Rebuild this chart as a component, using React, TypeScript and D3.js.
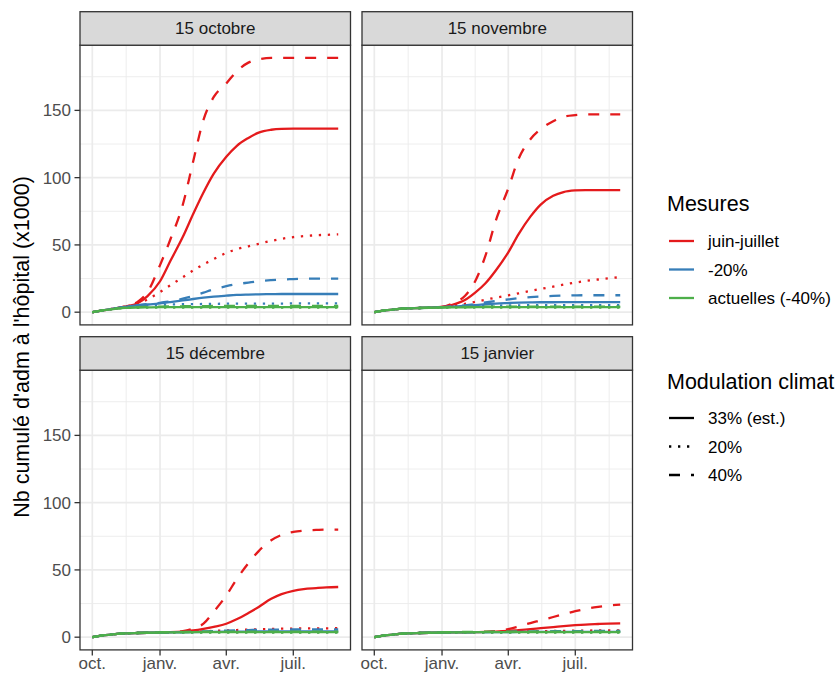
import React from "react";
import * as d3 from "d3";

const facetLabels = ["15 octobre", "15 novembre", "15 décembre", "15 janvier"];
const mesureLabels = ["juin-juillet", "-20%", "actuelles (-40%)"];
const climatLabels = ["33% (est.)", "20%", "40%"];
const mesureColors = ["#E41A1C", "#377EB8", "#4DAF4A"];
const xTickDates = ["2020-10-01", "2021-01-01", "2021-04-01", "2021-07-01"];
const xTickLabels = ["oct.", "janv.", "avr.", "juil."];
const yTicks = [0, 50, 100, 150];

const sampleDates = [
  "2020-10-01", "2020-10-15", "2020-11-01", "2020-11-15", "2020-12-01", "2020-12-15",
  "2021-01-01", "2021-01-15", "2021-02-01", "2021-02-15", "2021-03-01", "2021-03-15",
  "2021-04-01", "2021-04-15", "2021-05-01", "2021-05-15", "2021-06-01", "2021-06-15",
  "2021-07-01", "2021-07-15", "2021-08-01", "2021-08-15", "2021-08-31",
];

// 15 octobre
const oct_juin_33 = [0, 1.3, 2.8, 4.2, 6.5, 12, 23, 38, 56, 73, 89, 103, 115.5, 123.5, 129.5, 133.5, 135.6, 136.3, 136.5, 136.5, 136.5, 136.5, 136.5];
const oct_juin_20 = [0, 1.3, 2.8, 4.2, 6.3, 9.5, 15, 20, 26, 31, 35.5, 39.5, 44, 46.8, 49, 50.8, 53, 54.5, 55.8, 56.5, 57.2, 57.5, 57.8];
const oct_juin_40 = [0, 1.3, 2.8, 4.5, 7.5, 15, 35, 54, 80, 112, 143, 160, 170, 179, 185.5, 188, 189, 189, 189, 189, 189, 189, 189];
const oct_m20_33 = [0, 1.3, 2.8, 4, 5, 5.7, 6.6, 7.5, 8.7, 9.8, 10.8, 11.6, 12.3, 12.8, 13.1, 13.3, 13.4, 13.5, 13.5, 13.5, 13.5, 13.5, 13.5];
const oct_m20_20 = [0, 1.3, 2.7, 3.8, 4.6, 5, 5.4, 5.7, 5.9, 6, 6.1, 6.2, 6.3, 6.3, 6.4, 6.4, 6.4, 6.4, 6.5, 6.5, 6.5, 6.5, 6.5];
const oct_m20_40 = [0, 1.3, 2.8, 4, 5.2, 6, 7, 8, 10, 12, 14.5, 17, 19.3, 20.8, 22, 23, 23.8, 24.3, 24.6, 24.8, 25, 25, 25];
const oct_act_33 = [0, 1.3, 2.5, 3.2, 3.5, 3.6, 3.7, 3.7, 3.7, 3.8, 3.8, 3.8, 3.8, 3.8, 3.8, 3.8, 3.8, 3.8, 3.8, 3.8, 3.8, 3.8, 3.8];
const oct_act_20 = [0, 1.3, 2.5, 3.1, 3.3, 3.4, 3.4, 3.4, 3.5, 3.5, 3.5, 3.5, 3.5, 3.5, 3.5, 3.5, 3.5, 3.5, 3.5, 3.5, 3.5, 3.5, 3.5];
const oct_act_40 = [0, 1.3, 2.6, 3.4, 3.8, 4, 4.2, 4.3, 4.4, 4.5, 4.5, 4.6, 4.6, 4.6, 4.6, 4.6, 4.6, 4.6, 4.6, 4.6, 4.6, 4.6, 4.6];

// 15 novembre
const nov_juin_33 = [0, 1.3, 2.3, 2.8, 3.1, 3.4, 4, 5.5, 9, 14.5, 21.5, 31, 44.5, 58, 71, 80, 86.5, 89.3, 90.5, 90.8, 90.8, 90.8, 90.8];
const nov_juin_20 = [0, 1.3, 2.3, 2.8, 3.1, 3.4, 3.9, 4.8, 6.2, 7.7, 9.3, 10.8, 12.5, 14, 15.8, 17.3, 19, 20.5, 22, 23.2, 24.3, 25.2, 26];
const nov_juin_40 = [0, 1.3, 2.3, 2.8, 3.1, 3.4, 4, 6.5, 12, 23, 42, 68, 92, 114, 128.5, 136, 142, 145.3, 146.5, 147, 147, 147, 147];
const nov_m20_33 = [0, 1.3, 2.3, 2.8, 3.1, 3.4, 3.7, 4.1, 4.7, 5.3, 5.9, 6.4, 6.8, 7.1, 7.3, 7.4, 7.4, 7.5, 7.5, 7.5, 7.5, 7.5, 7.5];
const nov_m20_20 = [0, 1.3, 2.3, 2.8, 3.1, 3.4, 3.6, 3.9, 4.2, 4.5, 4.7, 4.9, 5, 5.1, 5.2, 5.2, 5.3, 5.3, 5.3, 5.3, 5.3, 5.3, 5.3];
const nov_m20_40 = [0, 1.3, 2.3, 2.8, 3.1, 3.4, 3.8, 4.3, 5.1, 6, 7.2, 8.3, 9.5, 10.4, 11.2, 11.7, 12.1, 12.3, 12.5, 12.6, 12.6, 12.6, 12.6];

// actuelles (-40%), facets 15 novembre .. 15 janvier
const late_act_33 = [0, 1.3, 2.3, 2.8, 3.1, 3.3, 3.5, 3.6, 3.6, 3.7, 3.7, 3.7, 3.7, 3.7, 3.7, 3.7, 3.7, 3.7, 3.7, 3.7, 3.7, 3.7, 3.7];
const late_act_20 = [0, 1.3, 2.3, 2.8, 3.1, 3.3, 3.4, 3.5, 3.5, 3.5, 3.5, 3.5, 3.5, 3.5, 3.5, 3.5, 3.5, 3.5, 3.5, 3.5, 3.5, 3.5, 3.5];
const late_act_40 = [0, 1.3, 2.3, 2.8, 3.1, 3.4, 3.6, 3.8, 3.9, 4, 4.1, 4.1, 4.2, 4.2, 4.2, 4.2, 4.2, 4.2, 4.2, 4.2, 4.2, 4.2, 4.2];

// 15 décembre
const dec_juin_33 = [0, 1.3, 2.3, 2.8, 3.1, 3.3, 3.5, 3.7, 4.2, 5, 6.2, 7.7, 10, 13.3, 18, 22.5, 28.5, 32, 34.5, 35.8, 36.5, 37, 37.3];
const dec_juin_20 = [0, 1.3, 2.3, 2.8, 3.1, 3.3, 3.5, 3.6, 3.8, 4, 4.3, 4.7, 5, 5.3, 5.6, 5.9, 6.1, 6.3, 6.4, 6.5, 6.6, 6.6, 6.7];
const dec_juin_40 = [0, 1.3, 2.3, 2.8, 3.1, 3.3, 3.5, 3.7, 4.5, 6.5, 10, 19, 31, 43, 55, 64, 72, 76, 78.2, 79.2, 79.7, 80, 80];
const dec_m20_33 = [0, 1.3, 2.3, 2.8, 3.1, 3.3, 3.5, 3.6, 3.7, 3.8, 3.9, 4, 4.1, 4.2, 4.2, 4.3, 4.3, 4.3, 4.3, 4.3, 4.3, 4.3, 4.3];
const dec_m20_20 = [0, 1.3, 2.3, 2.8, 3.1, 3.3, 3.5, 3.5, 3.6, 3.6, 3.7, 3.7, 3.7, 3.8, 3.8, 3.8, 3.8, 3.8, 3.8, 3.8, 3.8, 3.8, 3.8];
const dec_m20_40 = [0, 1.3, 2.3, 2.8, 3.1, 3.3, 3.5, 3.6, 3.8, 4, 4.3, 4.6, 4.9, 5.1, 5.3, 5.5, 5.6, 5.7, 5.7, 5.8, 5.8, 5.8, 5.8];

// 15 janvier
const jan_juin_33 = [0, 1.3, 2.3, 2.8, 3.1, 3.3, 3.5, 3.6, 3.7, 3.8, 3.9, 4.1, 4.6, 5.3, 6, 6.7, 7.5, 8.2, 8.9, 9.4, 9.8, 10.1, 10.3];
const jan_juin_20 = [0, 1.3, 2.3, 2.8, 3.1, 3.3, 3.5, 3.6, 3.7, 3.7, 3.8, 3.9, 4, 4.2, 4.3, 4.5, 4.6, 4.7, 4.8, 4.9, 5, 5, 5.1];
const jan_juin_40 = [0, 1.3, 2.3, 2.8, 3.1, 3.3, 3.5, 3.6, 3.7, 3.8, 4, 4.5, 6, 8, 10.5, 12.5, 15, 17, 19.3, 21, 22.5, 23.5, 24.2];
const jan_m20_33 = [0, 1.3, 2.3, 2.8, 3.1, 3.3, 3.5, 3.6, 3.6, 3.7, 3.7, 3.8, 3.8, 3.9, 3.9, 4, 4, 4, 4, 4, 4, 4, 4];
const jan_m20_20 = [0, 1.3, 2.3, 2.8, 3.1, 3.3, 3.5, 3.5, 3.5, 3.6, 3.6, 3.6, 3.6, 3.7, 3.7, 3.7, 3.7, 3.7, 3.7, 3.7, 3.7, 3.7, 3.7];
const jan_m20_40 = [0, 1.3, 2.3, 2.8, 3.1, 3.3, 3.5, 3.6, 3.7, 3.7, 3.8, 3.9, 4, 4.1, 4.2, 4.3, 4.4, 4.5, 4.5, 4.6, 4.6, 4.6, 4.6];

// [facet][mesure][climat]
const facetSeries = [
  [[oct_juin_33, oct_juin_20, oct_juin_40], [oct_m20_33, oct_m20_20, oct_m20_40], [oct_act_33, oct_act_20, oct_act_40]],
  [[nov_juin_33, nov_juin_20, nov_juin_40], [nov_m20_33, nov_m20_20, nov_m20_40], [late_act_33, late_act_20, late_act_40]],
  [[dec_juin_33, dec_juin_20, dec_juin_40], [dec_m20_33, dec_m20_20, dec_m20_40], [late_act_33, late_act_20, late_act_40]],
  [[jan_juin_33, jan_juin_20, jan_juin_40], [jan_m20_33, jan_m20_20, jan_m20_40], [late_act_33, late_act_20, late_act_40]],
];

const FONT = "'Liberation Sans', Arial, Helvetica, sans-serif";

export default function App() {
  const W = 837, H = 674;
  const colLeft = [80, 362];
  const stripTop = [11.7, 336.7];
  const stripH = 33.5;
  const panelW = 270.5;
  const panelH = 279.7;
  const lw = 2.3;
  const dashes = ["none", "2.3,6.7", "11,11"];

  const parse = d3.timeParse("%Y-%m-%d");
  const dates = sampleDates.map((s) => parse(s) as Date);
  const tickDates = xTickDates.map((s) => parse(s) as Date);

  const allVals = (facetSeries as number[][][][]).flat(3);
  const vmin = d3.min(allVals) as number;
  const vmax = d3.max(allVals) as number;
  const yPad = (vmax - vmin) * 0.05;
  const t0 = +dates[0], t1 = +dates[dates.length - 1];
  const xPad = (t1 - t0) * 0.05;

  const x = d3.scaleTime().domain([new Date(t0 - xPad), new Date(t1 + xPad)]).range([0, panelW]);
  const y = d3.scaleLinear().domain([vmin - yPad, vmax + yPad]).range([panelH, 0]);

  // minor breaks: midpoints of major breaks (extended by one step)
  const tnum = tickDates.map((d) => +d);
  const step = tnum[1] - tnum[0];
  const ext = [tnum[0] - step, ...tnum, tnum[tnum.length - 1] + step];
  const xMinor: Date[] = [];
  for (let i = 0; i < ext.length - 1; i++) {
    const m = (ext[i] + ext[i + 1]) / 2;
    if (m >= +x.domain()[0] && m <= +x.domain()[1]) xMinor.push(new Date(m));
  }
  const yStep = yTicks[1] - yTicks[0];
  const yMinor: number[] = [];
  for (let v = yTicks[0] - yStep / 2; v <= vmax + yPad; v += yStep) {
    if (v >= vmin - yPad) yMinor.push(v);
  }

  const line = d3
    .line<number>()
    .x((_, i) => x(dates[i]))
    .y((v) => y(v))
    .curve(d3.curveMonotoneX);

  const panels = facetLabels.map((lab, f) => {
    const col = f % 2;
    const row = Math.floor(f / 2);
    const left = colLeft[col];
    const sTop = stripTop[row];
    const pTop = sTop + stripH;
    return (
      <g key={f}>
        <g transform={`translate(${left},${pTop})`}>
          <clipPath id={`clip${f}`}>
            <rect x={0} y={0} width={panelW} height={panelH} />
          </clipPath>
          <rect x={0} y={0} width={panelW} height={panelH} fill="#FFFFFF" />
          {xMinor.map((d, i) => (
            <line key={"xm" + i} x1={x(d)} x2={x(d)} y1={0} y2={panelH} stroke="#EBEBEB" strokeWidth={0.9} />
          ))}
          {yMinor.map((v, i) => (
            <line key={"ym" + i} x1={0} x2={panelW} y1={y(v)} y2={y(v)} stroke="#EBEBEB" strokeWidth={0.9} />
          ))}
          {tickDates.map((d, i) => (
            <line key={"xM" + i} x1={x(d)} x2={x(d)} y1={0} y2={panelH} stroke="#EBEBEB" strokeWidth={1.7} />
          ))}
          {yTicks.map((v, i) => (
            <line key={"yM" + i} x1={0} x2={panelW} y1={y(v)} y2={y(v)} stroke="#EBEBEB" strokeWidth={1.7} />
          ))}
          <g clipPath={`url(#clip${f})`}>
            {facetSeries[f].map((byClimat, m) =>
              byClimat.map((vals, c) => (
                <path
                  key={`s${m}-${c}`}
                  d={line(vals) || ""}
                  fill="none"
                  stroke={mesureColors[m]}
                  strokeWidth={lw}
                  strokeDasharray={dashes[c]}
                  strokeLinecap="butt"
                />
              ))
            )}
          </g>
          <rect x={0} y={0} width={panelW} height={panelH} fill="none" stroke="#333333" strokeWidth={1.3} />
          {col === 0 &&
            yTicks.map((v, i) => (
              <g key={"yt" + i}>
                <line x1={-5.5} x2={0} y1={y(v)} y2={y(v)} stroke="#333333" strokeWidth={1.3} />
                <text x={-9} y={y(v) + 6} textAnchor="end" fontSize={17} fill="#4D4D4D" fontFamily={FONT}>
                  {v}
                </text>
              </g>
            ))}
          {row === 1 &&
            tickDates.map((d, i) => (
              <g key={"xt" + i}>
                <line x1={x(d)} x2={x(d)} y1={panelH} y2={panelH + 5.5} stroke="#333333" strokeWidth={1.3} />
                <text x={x(d)} y={panelH + 19.5} textAnchor="middle" fontSize={17} fill="#4D4D4D" fontFamily={FONT}>
                  {xTickLabels[i]}
                </text>
              </g>
            ))}
        </g>
        <rect x={left} y={sTop} width={panelW} height={stripH} fill="#D9D9D9" stroke="#333333" strokeWidth={1.3} />
        <text
          x={left + panelW / 2}
          y={sTop + stripH / 2 + 6}
          textAnchor="middle"
          fontSize={17}
          fill="#1A1A1A"
          fontFamily={FONT}
        >
          {lab}
        </text>
      </g>
    );
  });

  const legX = 667;
  const keyX1 = 669, keyX2 = 694, labX = 708;
  const mesTitleY = 211;
  const mesKeys = [241, 269.5, 298];
  const cliTitleY = 389;
  const cliKeys = [418, 446.5, 475];

  return (
    <svg
      width={W}
      height={H}
      viewBox={`0 0 ${W} ${H}`}
      style={{ position: "absolute", left: 0, top: 0, background: "#FFFFFF" }}
      fontFamily={FONT}
    >
      <rect x={0} y={0} width={W} height={H} fill="#FFFFFF" />
      {panels}
      <text
        transform="translate(28.5,347) rotate(-90)"
        textAnchor="middle"
        fontSize={21.5}
        fill="#000000"
        fontFamily={FONT}
      >
        Nb cumulé d'adm à l'hôpital (x1000)
      </text>

      <text x={legX} y={mesTitleY} fontSize={21.5} fill="#000000" fontFamily={FONT}>
        Mesures
      </text>
      {mesureLabels.map((lab, i) => (
        <g key={"lm" + i}>
          <line x1={keyX1} x2={keyX2} y1={mesKeys[i]} y2={mesKeys[i]} stroke={mesureColors[i]} strokeWidth={lw} />
          <text x={labX} y={mesKeys[i] + 6} fontSize={17} fill="#000000" fontFamily={FONT}>
            {lab}
          </text>
        </g>
      ))}

      <text x={legX} y={cliTitleY} fontSize={21.5} fill="#000000" fontFamily={FONT}>
        Modulation climat
      </text>
      {climatLabels.map((lab, i) => (
        <g key={"lc" + i}>
          <line
            x1={keyX1}
            x2={keyX2}
            y1={cliKeys[i]}
            y2={cliKeys[i]}
            stroke="#000000"
            strokeWidth={lw}
            strokeDasharray={dashes[i]}
          />
          <text x={labX} y={cliKeys[i] + 6} fontSize={17} fill="#000000" fontFamily={FONT}>
            {lab}
          </text>
        </g>
      ))}
    </svg>
  );
}
